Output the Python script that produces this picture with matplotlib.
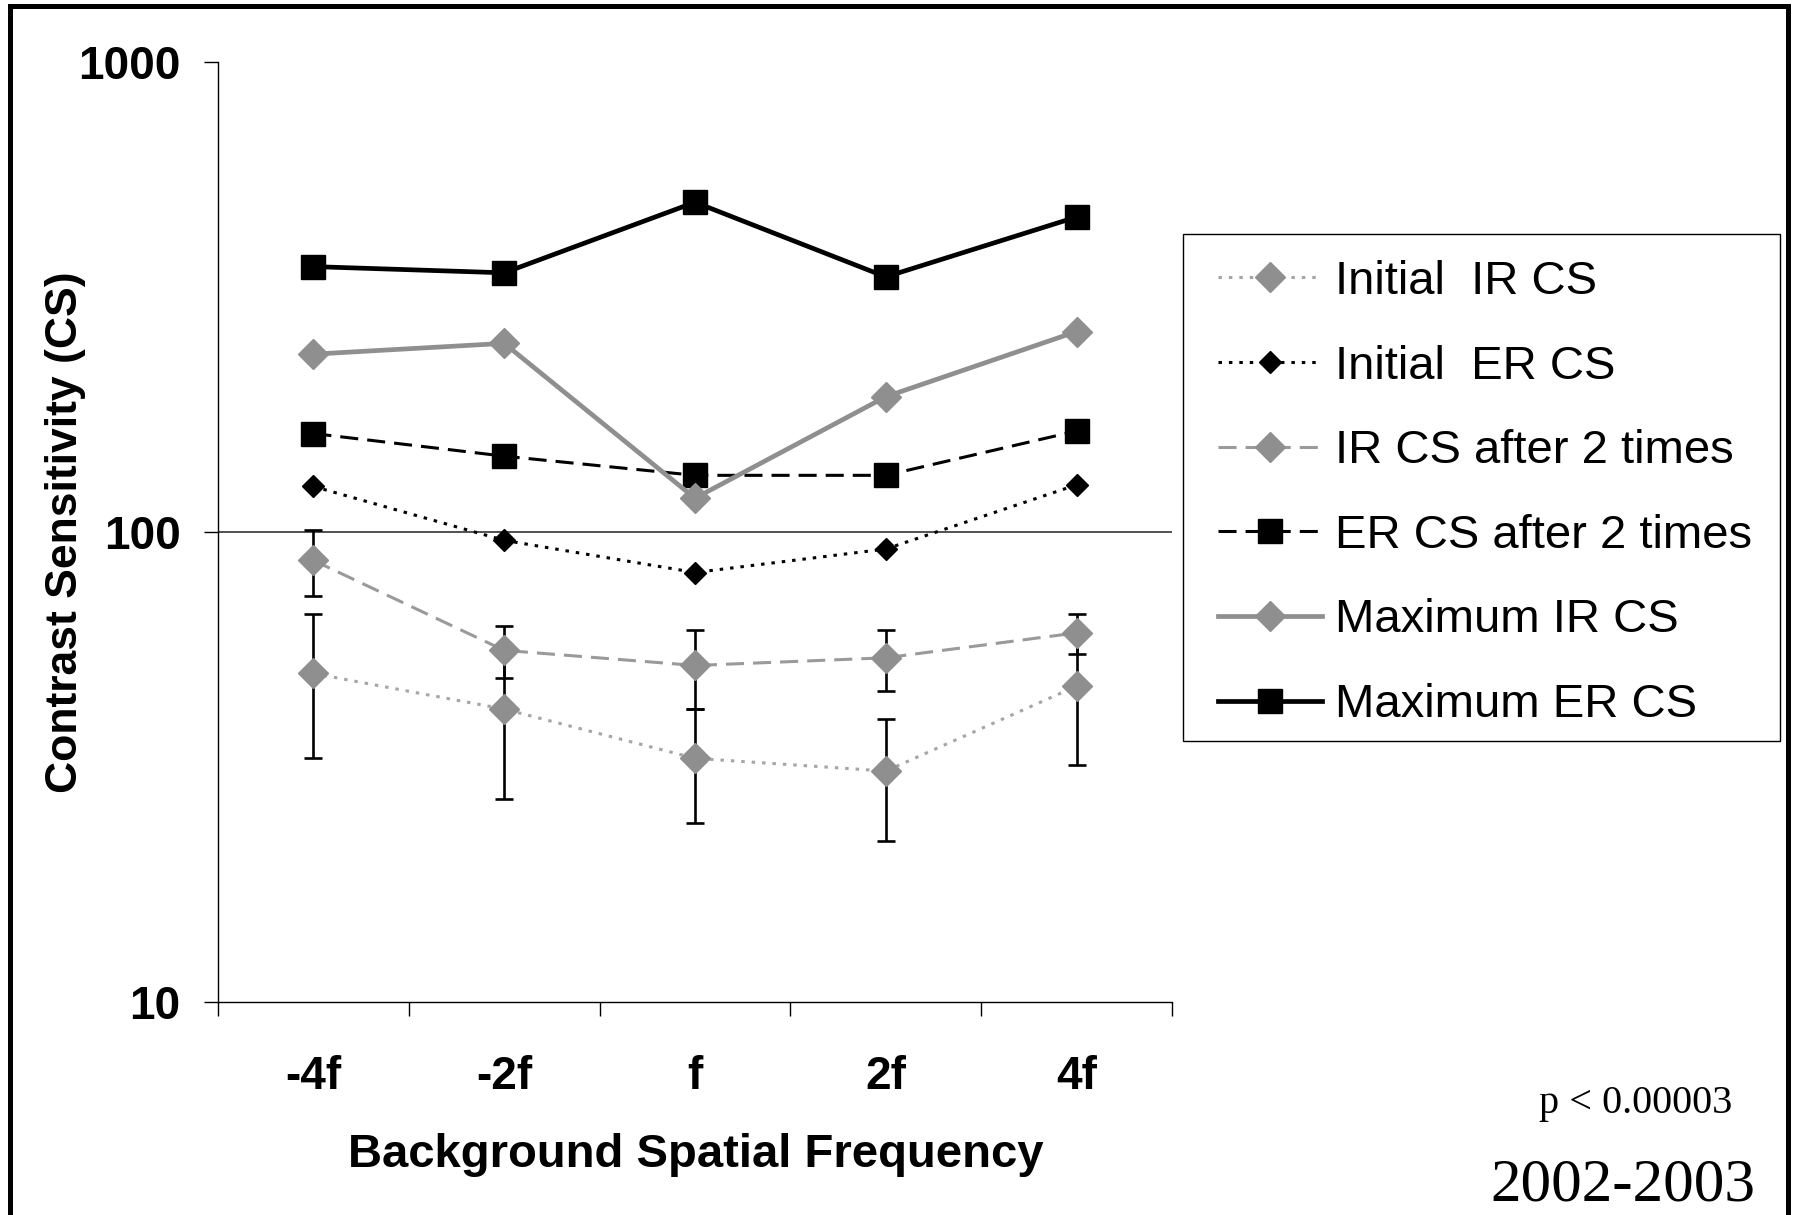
import numpy as np
import matplotlib
matplotlib.use('Agg')
import matplotlib.pyplot as plt
from matplotlib.patches import Rectangle
from matplotlib.ticker import NullLocator

plt.rcParams['font.family'] = ['Liberation Sans', 'DejaVu Sans']
plt.rcParams['lines.scale_dashes'] = False

# data
cats = ['-4f', '-2f', 'f', '2f', '4f']
init_ir = [50, 42, 33, 31, 47]
init_ir_err = [17, 15, 9, 9, 15]
init_er = [125, 96, 82, 92, 126]
ir_after2 = [87, 56, 52, 54, 61]
ir_after2_err = [14, 7, 10, 8, 6]
er_after2 = [162, 145, 132, 132, 164]
max_ir = [239, 252, 118, 194, 267]
max_er = [367, 356, 503, 349, 468]

W, H = 1793, 1215
fig = plt.figure(figsize=(W/100, H/100), dpi=100)
ax = fig.add_axes([218/W, 1-1002/H, (1172-218)/W, (1002-62)/H])

x = np.arange(len(cats))
grey = '#8f8f8f'

# error bars under the markers
ax.errorbar(x, init_ir, yerr=init_ir_err, fmt='none', ecolor='black',
            elinewidth=1.9, capsize=6.5, capthick=1.9, zorder=2)
ax.errorbar(x, ir_after2, yerr=ir_after2_err, fmt='none', ecolor='black',
            elinewidth=1.9, capsize=6.5, capthick=1.9, zorder=2)

dot = (0, (2.5, 5))
dash = (0, (13, 6.5))
ax.plot(x, init_ir, color='#a6a6a6', ls=dot, lw=2.2, marker='D', ms=15,
        mfc=grey, mec=grey, label='Initial  IR CS', zorder=3)
ax.plot(x, init_er, color='black', ls=dot, lw=2.2, marker='D', ms=11,
        mfc='black', mec='black', label='Initial  ER CS', zorder=3)
ax.plot(x, ir_after2, color='#9a9a9a', ls=dash, lw=2.2, marker='D', ms=15,
        mfc=grey, mec=grey, label='IR CS after 2 times', zorder=3)
ax.plot(x, er_after2, color='black', ls=dash, lw=2.2, marker='s', ms=17,
        mfc='black', mec='black', label='ER CS after 2 times', zorder=3)
ax.plot(x, max_ir, color=grey, ls='-', lw=3.4, marker='D', ms=15,
        mfc=grey, mec=grey, label='Maximum IR CS', zorder=3)
ax.plot(x, max_er, color='black', ls='-', lw=3.4, marker='s', ms=17,
        mfc='black', mec='black', label='Maximum ER CS', zorder=4)

ax.axhline(100, color='#333333', lw=1.2, zorder=1)

ax.set_yscale('log')
ax.set_ylim(10, 1000)
ax.set_xlim(-0.5, 4.5)
ax.set_yticks([10, 100, 1000])
ax.set_yticklabels(['10', '100', '1000'])
ax.yaxis.set_minor_locator(NullLocator())
ax.tick_params(axis='y', which='major', direction='out', length=10, width=1,
               pad=17, labelsize=33)
for t in ax.get_yticklabels():
    t.set_fontweight('bold')

ax.set_xticks(x)
ax.set_xticklabels(cats, fontsize=33, fontweight='bold')
ax.set_xticks(np.arange(-0.5, 5, 1), minor=True)
ax.tick_params(axis='x', which='major', length=0, pad=38)
ax.tick_params(axis='x', which='minor', direction='out', length=10, width=1)

ax.spines['top'].set_visible(False)
ax.spines['right'].set_visible(False)
ax.spines['left'].set_linewidth(1)
ax.spines['bottom'].set_linewidth(1)

fig.text(66/W, 1-532/H, 'Contrast Sensitivity (CS)', rotation=90,
         ha='center', va='center', fontsize=32, fontweight='bold')
fig.text(696/W, 1-1155/H, 'Background Spatial Frequency',
         ha='center', va='center', fontsize=34, fontweight='bold')

# legend box drawn by hand, legend itself without frame
fig.patches.append(Rectangle((1183/W, 1-741/H), (1780-1183)/W, (741-234)/H,
                             transform=fig.transFigure, fill=False,
                             edgecolor='black', lw=1))
ax.legend(loc='upper left', bbox_to_anchor=(1218/W, 1-260/H),
          bbox_transform=fig.transFigure, frameon=False, fontsize=34,
          borderpad=0, borderaxespad=0, handlelength=2.2,
          handletextpad=0.28, labelspacing=0.86)

fig.text(1636/W, 1-1104/H, 'p < 0.00003', ha='center', va='center',
         fontsize=29, family='Liberation Serif')
fig.text(1623/W, 1-1186/H, '2002-2003', ha='center', va='center',
         fontsize=44, family='Liberation Serif')

# outer frame
fig.patches.append(Rectangle((9.5/W, -0.02), (1787.5-9.5)/W, 1.02-6/H,
                             transform=fig.transFigure, fill=False,
                             edgecolor='black', lw=3.6))

fig.savefig('out.png', dpi=100)
